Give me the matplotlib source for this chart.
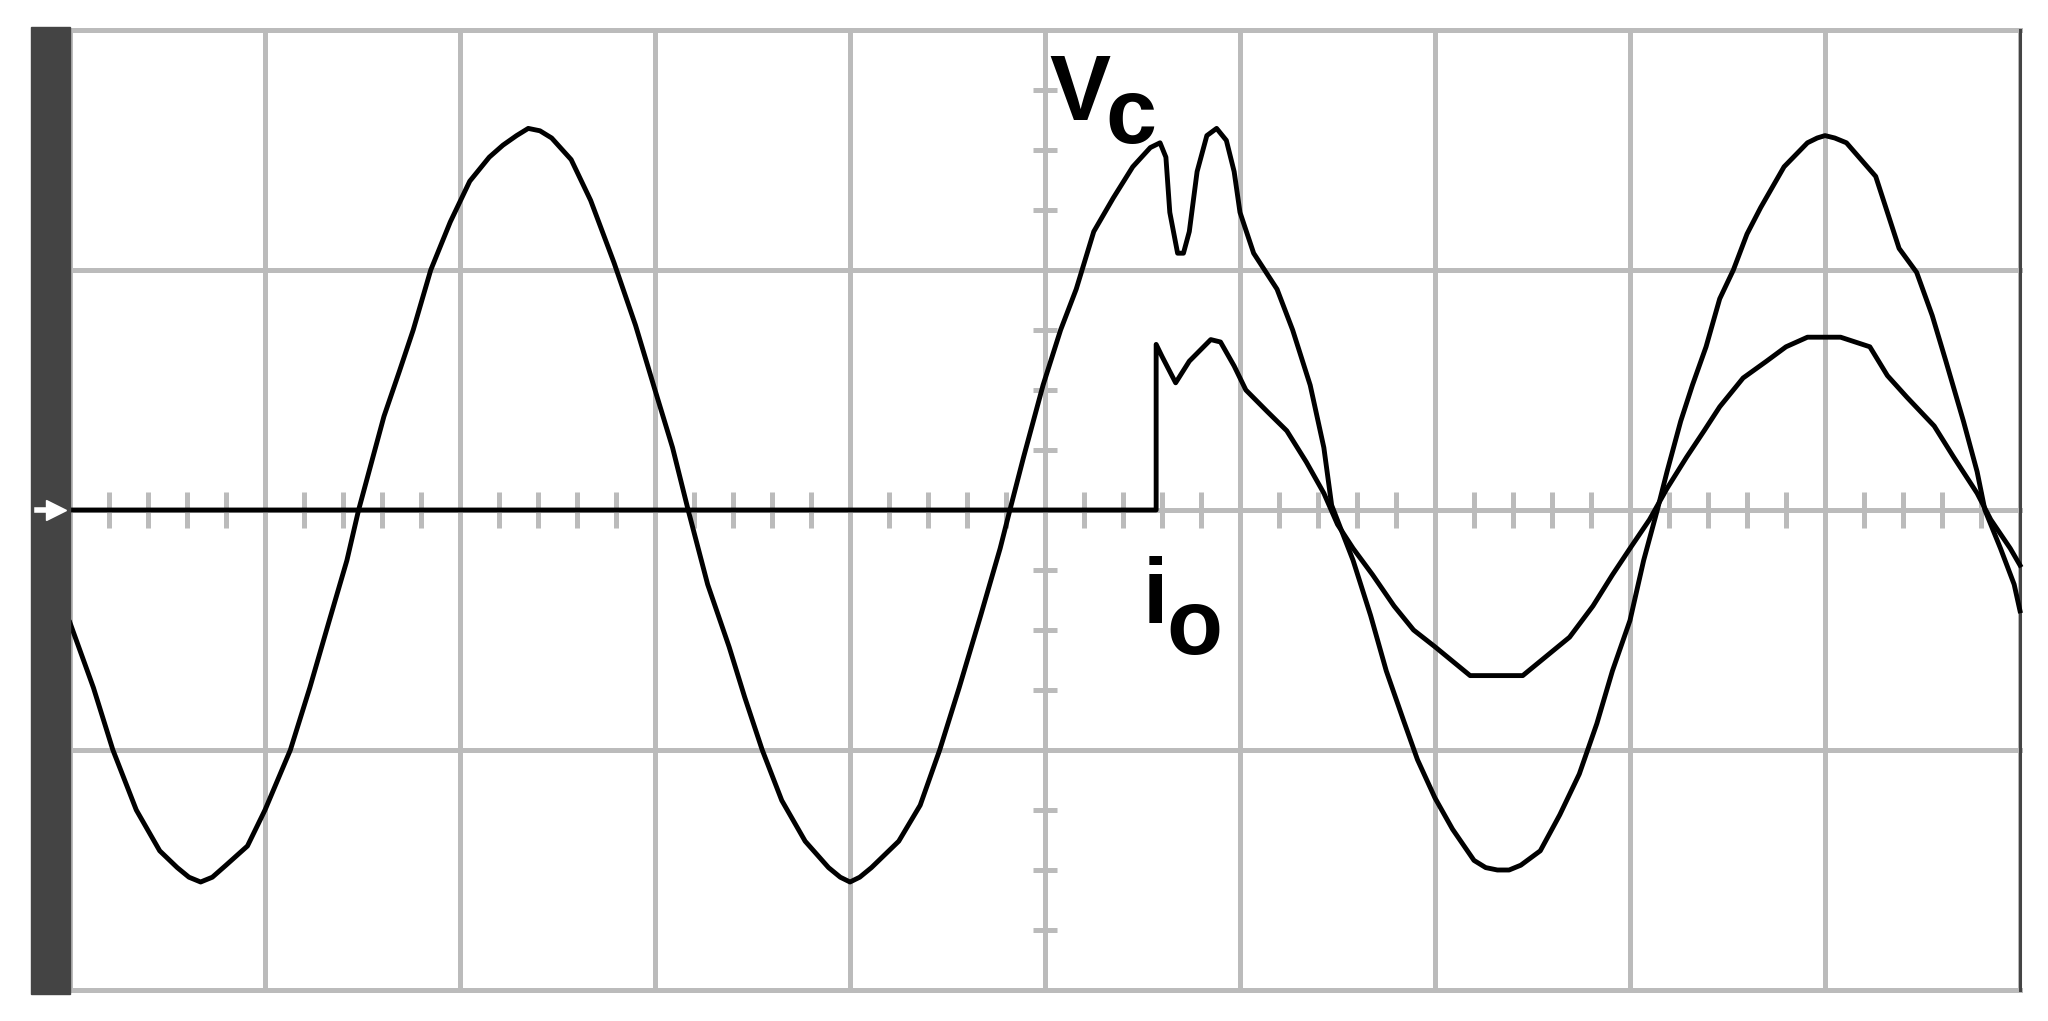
import matplotlib.pyplot as plt
from matplotlib.patches import Rectangle

# Vc trace (screen divisions, 10 x 4 grid, centre = 0)
vc_x = [0.00, 0.12, 0.22, 0.34, 0.46, 0.55, 0.61, 0.67, 0.73, 0.80, 0.91, 1.00, 1.13, 1.23, 1.33, 1.42, 1.48,
        1.54, 1.61, 1.69, 1.76, 1.85, 1.95, 2.05, 2.15, 2.22, 2.29, 2.35, 2.41, 2.47, 2.57, 2.67, 2.79, 2.90,
        3.00, 3.09, 3.17, 3.27, 3.38, 3.46, 3.55, 3.65, 3.77, 3.89, 3.95, 4.00, 4.05, 4.11, 4.25, 4.36, 4.46,
        4.56, 4.67, 4.77, 4.82, 4.89, 4.99, 5.08, 5.16, 5.25, 5.35, 5.45, 5.54, 5.59, 5.62, 5.64,
        5.68, 5.71, 5.74, 5.78, 5.83, 5.88, 5.93, 5.97, 6.00, 6.07, 6.19, 6.27, 6.36, 6.43, 6.47,
        6.58, 6.67, 6.75, 6.84, 6.91, 7.00, 7.09, 7.20, 7.26, 7.32, 7.38, 7.44, 7.54, 7.64, 7.74, 7.83, 7.91,
        8.00, 8.07, 8.14, 8.19, 8.26, 8.32, 8.39, 8.46, 8.53, 8.60, 8.67, 8.79, 8.91, 8.96, 9.00, 9.05, 9.11,
        9.26, 9.38, 9.47, 9.55, 9.62, 9.71, 9.78, 9.82, 9.90, 9.97, 10.00]
vc_y = [-0.47, -0.74, -1.00, -1.25, -1.42, -1.49, -1.53, -1.55, -1.53, -1.48, -1.40, -1.25, -1.00, -0.74, -0.46, -0.21, 0.00,
        0.18, 0.39, 0.58, 0.75, 1.00, 1.20, 1.37, 1.47, 1.52, 1.56, 1.59, 1.58, 1.55, 1.46, 1.29, 1.03, 0.77,
        0.50, 0.26, 0.00, -0.31, -0.57, -0.78, -1.00, -1.21, -1.38, -1.49, -1.53, -1.55, -1.53, -1.49, -1.38, -1.23, -1.00,
        -0.74, -0.44, -0.16, 0.00, 0.22, 0.52, 0.75, 0.92, 1.16, 1.30, 1.43, 1.51, 1.53, 1.47, 1.24,
        1.07, 1.07, 1.16, 1.41, 1.56, 1.59, 1.54, 1.41, 1.24, 1.07, 0.92, 0.75, 0.52, 0.26, 0.02,
        -0.21, -0.44, -0.67, -0.88, -1.04, -1.20, -1.33, -1.46, -1.49, -1.50, -1.50, -1.48, -1.42, -1.27, -1.10, -0.89, -0.67,
        -0.46, -0.21, 0.00, 0.16, 0.37, 0.52, 0.68, 0.88, 1.00, 1.15, 1.26, 1.43, 1.53, 1.55, 1.56, 1.55, 1.53,
        1.39, 1.09, 0.99, 0.81, 0.62, 0.37, 0.16, 0.00, -0.16, -0.31, -0.42]

# io trace
io_x = [0.00, 5.57, 5.57, 5.60, 5.67, 5.74, 5.85, 5.90, 5.97, 6.03, 6.14, 6.24, 6.34, 6.43, 6.50,
        6.58, 6.68, 6.79, 6.89, 7.00, 7.09, 7.18, 7.30, 7.45, 7.57, 7.69, 7.81, 7.91, 8.00, 8.10,
        8.19, 8.29, 8.38, 8.46, 8.58, 8.70, 8.80, 8.91, 9.08, 9.23, 9.32, 9.42, 9.56, 9.66, 9.78,
        9.85, 9.95, 10.00]
io_y = [0.00, 0.00, 0.69, 0.64, 0.53, 0.62, 0.71, 0.70, 0.60, 0.50, 0.41, 0.33, 0.20, 0.07, -0.06,
        -0.16, -0.27, -0.40, -0.50, -0.57, -0.63, -0.69, -0.69, -0.69, -0.61, -0.53, -0.40, -0.27, -0.16, -0.04,
        0.09, 0.22, 0.33, 0.43, 0.55, 0.62, 0.68, 0.72, 0.72, 0.68, 0.56, 0.47, 0.35, 0.22, 0.07,
        -0.04, -0.16, -0.23]

grid_color = '#bbbbbb'
label_font = ['Liberation Sans', 'DejaVu Sans']

fig = plt.figure(figsize=(20.48, 10.21), dpi=100)
ax = fig.add_axes([70 / 2048, 31 / 1021, 1950 / 2048, 960 / 1021])
ax.set_xlim(0, 10)
ax.set_ylim(-2, 2)
ax.set_xticks([])
ax.set_yticks([])
for side in ['left', 'top', 'bottom']:
    ax.spines[side].set_visible(False)
ax.spines['right'].set_color('#444444')
ax.spines['right'].set_linewidth(2.2)

# graticule
for gx in range(11):
    ax.axvline(gx, color=grid_color, lw=3.6, zorder=1)
for gy in [-2, -1, 0, 1, 2]:
    ax.axhline(gy, color=grid_color, lw=3.6, zorder=1, clip_on=False)

# small division marks along the centre lines
minor_x = [i * 0.2 for i in range(1, 50) if i % 5 != 0]
minor_y = [i * 0.25 for i in range(-7, 8) if i % 4 != 0]
ax.plot(minor_x, [0] * len(minor_x), ls='none', marker='|', ms=26, mew=3.6, color=grid_color, zorder=1)
ax.plot([5] * len(minor_y), minor_y, ls='none', marker='_', ms=17, mew=3.6, color=grid_color, zorder=1)

# traces
ax.plot(vc_x, vc_y, color='black', lw=3.5, zorder=3, clip_on=False)
ax.plot(io_x, io_y, color='black', lw=3.5, zorder=3, clip_on=False)

# left dark bar with channel marker
ax.add_patch(Rectangle((-0.2, -2.017), 0.2, 4.03, color='#444444', clip_on=False, zorder=4))
ax.plot([-0.17, -0.09], [0, 0], color='white', lw=4, clip_on=False, zorder=5)
ax.plot([-0.07], [0], marker='>', ms=15, color='white', clip_on=False, zorder=5)

# labels
ax.text(5.02, 1.625, 'V', fontsize=66, fontweight='bold', family=label_font, va='baseline', ha='left', zorder=6)
ax.text(5.31, 1.53, 'c', fontsize=66, fontweight='bold', family=label_font, va='baseline', ha='left', zorder=6)
ax.text(5.50, -0.47, 'i', fontsize=66, fontweight='bold', family=label_font, va='baseline', ha='left', zorder=6)
ax.text(5.625, -0.60, 'o', fontsize=66, fontweight='bold', family=label_font, va='baseline', ha='left', zorder=6)

plt.savefig('out.png', dpi=100)
